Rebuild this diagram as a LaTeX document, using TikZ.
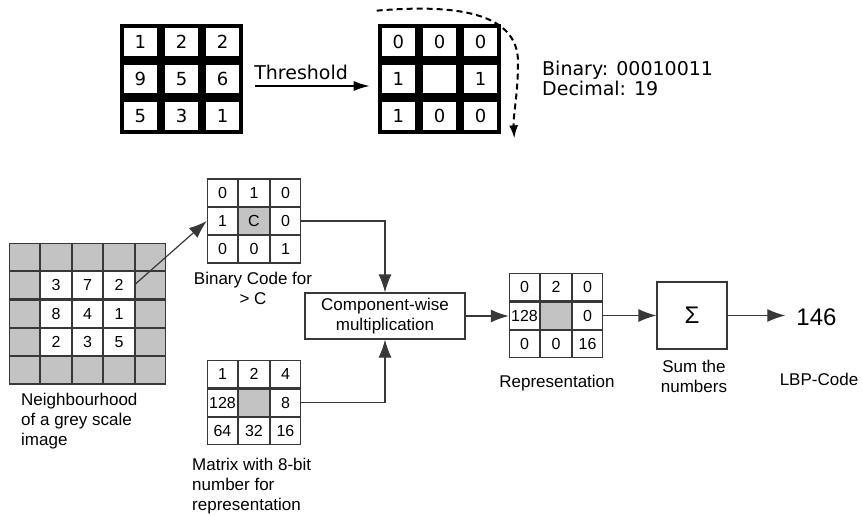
\documentclass[tikz,border=0pt]{standalone}
\usepackage{fontspec}
\setmainfont{Liberation Sans}
\newfontfamily\djv{DejaVu Sans}
\usetikzlibrary{matrix,arrows.meta}
\definecolor{cgray}{HTML}{C3C3C3}
\definecolor{lgray}{HTML}{383838}
\begin{document}
\begin{tikzpicture}[x=1pt,y=-1pt,
  tcell/.style={draw, line width=4.2pt, minimum width=37pt, minimum height=32.7pt, inner sep=0pt, outer sep=0pt, anchor=center, font=\djv\fontsize{18}{18}\selectfont},
  tgrid/.style={matrix of nodes, nodes in empty cells, inner sep=0pt, outer sep=0pt, column sep=0pt, row sep=0pt, nodes={tcell}},
  bcell/.style={draw=lgray, line width=1.2pt, minimum width=30.3pt, minimum height=27.2pt, inner sep=0pt, outer sep=0pt, anchor=center, font=\fontsize{16}{16}\selectfont},
  bgrid/.style={matrix of nodes, nodes in empty cells, inner sep=0pt, outer sep=0pt, column sep=0pt, row sep=0pt, nodes={bcell}},
  g/.style={fill=cgray},
  lbl/.style={font=\fontsize{17}{20}\selectfont, inner sep=0pt},
  boxst/.style={draw=lgray, line width=1.2pt, inner sep=0pt},
  barr/.style={draw=lgray, line width=1.2pt, -{Latex[length=18pt,width=13pt]}},
  tarr/.style={line width=1.6pt, -{Latex[length=16pt,width=10pt]}},
  darr/.style={line width=2pt, dash pattern=on 6pt off 4pt, -{Latex[length=13pt,width=9pt]}}
]
\useasboundingbox (0,0) rectangle (863,515);

% top part
\matrix[tgrid] (tl) at (181.5,79) {1&2&2\\9&5&6\\5&3&1\\};
\matrix[tgrid] (tr) at (439.5,79) {0&0&0\\1&&1\\1&0&0\\};
\draw[tarr, shorten <=12pt, shorten >=8pt] ([shift={(0,7)}]tl.east) -- ([shift={(0,7)}]tr.west)
  node[pos=0.43, above=5pt, inner sep=0pt, font=\djv\fontsize{19}{19}\selectfont] (thr) {Threshold};
\draw[darr] ([shift={(-1,-13)}]tr.north west) .. controls (455,4) and (518,12) .. (518,62)
  .. controls (518,95) and (513,115) .. ([shift={(13,4)}]tr.south east);
\node[anchor=north west, inner sep=0pt, align=left, font=\djv\fontsize{19}{18}\selectfont] (bintxt) at (542,61) {Binary: 00010011\\Decimal: 19};

% bottom part
\matrix[bgrid] (nb) at (87.5,313.5) {
  |[g]| & |[g]| & |[g]| & |[g]| & |[g]| \\
  |[g]| & 3 & 7 & 2 & |[g]| \\
  |[g]| & 8 & 4 & 1 & |[g]| \\
  |[g]| & 2 & 3 & 5 & |[g]| \\
  |[g]| & |[g]| & |[g]| & |[g]| & |[g]| \\
};
\node[lbl, anchor=north west, align=left] (nbtxt) at (21,393) {Neighbourhood\\of a grey scale\\image};

\matrix[bgrid] (bin) at (254,221) {0&1&0\\1&|[g]|C&0\\0&0&1\\};
\node[lbl, anchor=north, align=center] (bintxt2) at (253,272) {Binary Code for\\{>} C};

\matrix[bgrid] (mat) at (254,402.5) {1&2&4\\128&|[g]|&8\\64&32&16\\};
\node[lbl, anchor=north west, align=left] (mattxt) at (192,458) {Matrix with 8-bit\\number for\\representation};

\node[boxst, minimum width=160pt, minimum height=46pt, align=center, font=\fontsize{17}{20}\selectfont] (comp) at (385,316) {Component-wise\\multiplication};

\matrix[bgrid] (rep) at (556,315.5) {0&2&0\\128&|[g]|&0\\0&0&16\\};
\node[lbl, anchor=north] (reptxt) at (557,375) {Representation};

\node[boxst, minimum width=70pt, minimum height=67pt, font=\fontsize{24}{24}\selectfont] (sum) at (692,315.5) {Σ};
\node[lbl, anchor=north, align=center] (sumtxt) at (694,360) {Sum the\\numbers};

\node[inner sep=0pt, font=\fontsize{24}{24}\selectfont] (lbp) at (816.5,317.5) {146};
\node[lbl, anchor=north] (lbptxt) at (819,373) {LBP-Code};

% connectors
\draw[barr] (nb-2-4.east) -- (bin.west);
\draw[barr] (bin.east) -| (comp.north);
\draw[barr] (mat.east) -| (comp.south);
\draw[barr] (comp.east) -- (comp.east -| rep.west);
\draw[barr] (rep.east) -- (rep.east -| sum.west);
\draw[barr, shorten >=11pt] (sum.east) -- (sum.east -| lbp.west);
\end{tikzpicture}
\end{document}
